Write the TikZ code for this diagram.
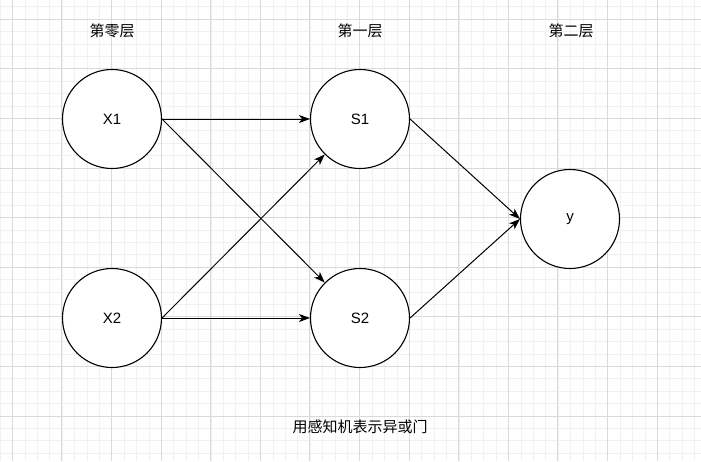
\documentclass[tikz,border=0pt]{standalone}
\usepackage{fontspec}
\setmainfont{Liberation Sans}
\newfontfamily\cjk{Noto Sans CJK SC}
\usepackage{tikz}
\usetikzlibrary{arrows.meta,positioning}
\definecolor{gridminor}{HTML}{F1F1F1}
\definecolor{gridmajor}{HTML}{DADADA}

\begin{document}
\begin{tikzpicture}[
    x=1pt, y=-1pt,
    neuron/.style={circle, draw, fill=white, line width=1.1pt, minimum size=99pt, inner sep=0pt, font=\fontsize{15}{18}\selectfont},
    layer/.style={font=\cjk\fontsize{15}{18}\selectfont},
    link/.style={-{Stealth[length=11pt, width=8pt, inset=3pt]}, line width=1pt}
]
    \useasboundingbox (0,0) rectangle (701,461);

    % Grid
    \foreach \i in {0,...,56} {
        \draw[gridminor, line width=1pt] ({0.2+12.4*\i},0) -- ({0.2+12.4*\i},461);
    }
    \foreach \i in {0,...,36} {
        \draw[gridminor, line width=1pt] (0,{6.9+12.4*\i}) -- (701,{6.9+12.4*\i});
    }
    \foreach \i in {0,...,13} {
        \draw[gridmajor, line width=1pt] ({12.3+49.6*\i},0) -- ({12.3+49.6*\i},461);
    }
    \foreach \i in {0,...,8} {
        \draw[gridmajor, line width=1pt] (0,{19.3+49.6*\i}) -- (701,{19.3+49.6*\i});
    }

    % Neurons
    \foreach \name/\txt/\px/\py in {x1/X1/112/119, x2/X2/112/318, s1/S1/360/119, s2/S2/360/318, y/y/570/219} {
        \node[neuron] (\name) at (\px,\py) {\txt};
    }

    % Layers
    \node[layer] (l0) at (112,31) {第零层};
    \node[layer] (l1) at (360,31) {第一层};
    \node[layer] (l2) at (571,31) {第二层};

    % Links
    \draw[link] (x1.east) -- (s1.west);
    \draw[link] (x1.east) -- (s2);
    \draw[link] (x2.east) -- (s1);
    \draw[link] (x2.east) -- (s2.west);
    \draw[link] (s1.east) -- (y.west);
    \draw[link] (s2.east) -- (y.west);

    \node[layer] (cap) at (360,427) {用感知机表示异或门};
\end{tikzpicture}
\end{document}
